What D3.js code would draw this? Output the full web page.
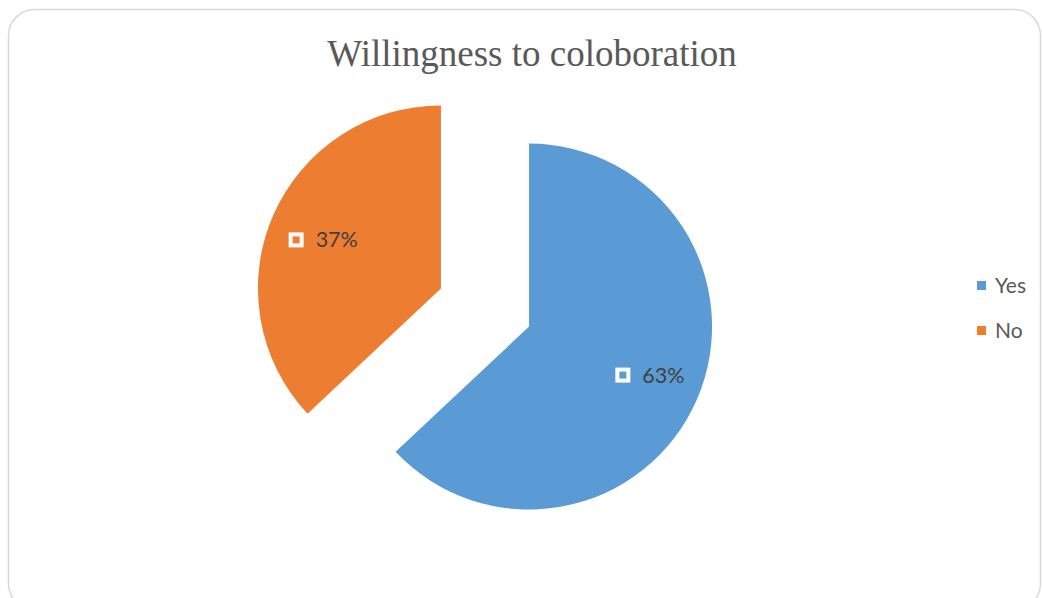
<!DOCTYPE html>
<html><head><meta charset="utf-8">
<script src="https://cdn.jsdelivr.net/npm/d3@7/dist/d3.min.js"></script>
<style>html,body{margin:0;padding:0;background:#fff;overflow:hidden}</style>
</head><body>
<svg id="c" width="1042" height="598"></svg>
<script>
const categories = ["Yes", "No"];
const values = [63, 37];
const labels = ["63%", "37%"];
const colors = ["#5B9BD5", "#ED7D31"];
const title = "Willingness to coloboration";

const svg = d3.select("#c");
svg.append("rect").attr("x", 8.5).attr("y", 9.5).attr("width", 1032).attr("height", 600)
  .attr("rx", 26).attr("fill", "#fff").attr("stroke", "#d9d9d9").attr("stroke-width", 1.5);

svg.append("text").attr("x", 532).attr("y", 66).attr("text-anchor", "middle")
  .attr("font-family", "Liberation Serif, Times New Roman, serif").attr("font-size", 37)
  .attr("fill", "#595959").text(title);

const cx = 485, cy = 307.5, R = 183, explode = 48;
const pie = d3.pie().sort(null).startAngle(0).endAngle(2 * Math.PI);
const arcs = pie(values);
const arc = d3.arc().innerRadius(0).outerRadius(R);
const labelArc = d3.arc().innerRadius(130).outerRadius(130);

const g = svg.append("g").attr("transform", `translate(${cx},${cy})`);
arcs.forEach((a, i) => {
  const mid = (a.startAngle + a.endAngle) / 2;
  const dx = explode * Math.sin(mid), dy = -explode * Math.cos(mid);
  const sg = g.append("g").attr("transform", `translate(${dx},${dy})`);
  sg.append("path").attr("d", arc(a)).attr("fill", colors[i]);
  const [lx, ly] = labelArc.centroid(a);
  const lg = sg.append("g").attr("transform", `translate(${lx + 2},${ly * 0.94})`);
  lg.append("rect").attr("x", -33).attr("y", -5.5).attr("width", 11).attr("height", 11)
    .attr("fill", colors[i]).attr("stroke", "#fff").attr("stroke-width", 4);
  lg.append("text").attr("x", -8).attr("y", 7.5).attr("font-family", "Lato, sans-serif")
    .attr("font-size", 21.5).attr("fill", "#404040").text(labels[i]);
});

const leg = svg.append("g");
categories.forEach((c, i) => {
  const y = 281 + i * 45;
  leg.append("rect").attr("x", 977).attr("y", y).attr("width", 9).attr("height", 9).attr("fill", colors[i]);
  leg.append("text").attr("x", 995).attr("y", y + 11.5).attr("font-family", "Lato, sans-serif")
    .attr("font-size", 21).attr("fill", "#595959").text(c);
});
</script>
</body></html>
